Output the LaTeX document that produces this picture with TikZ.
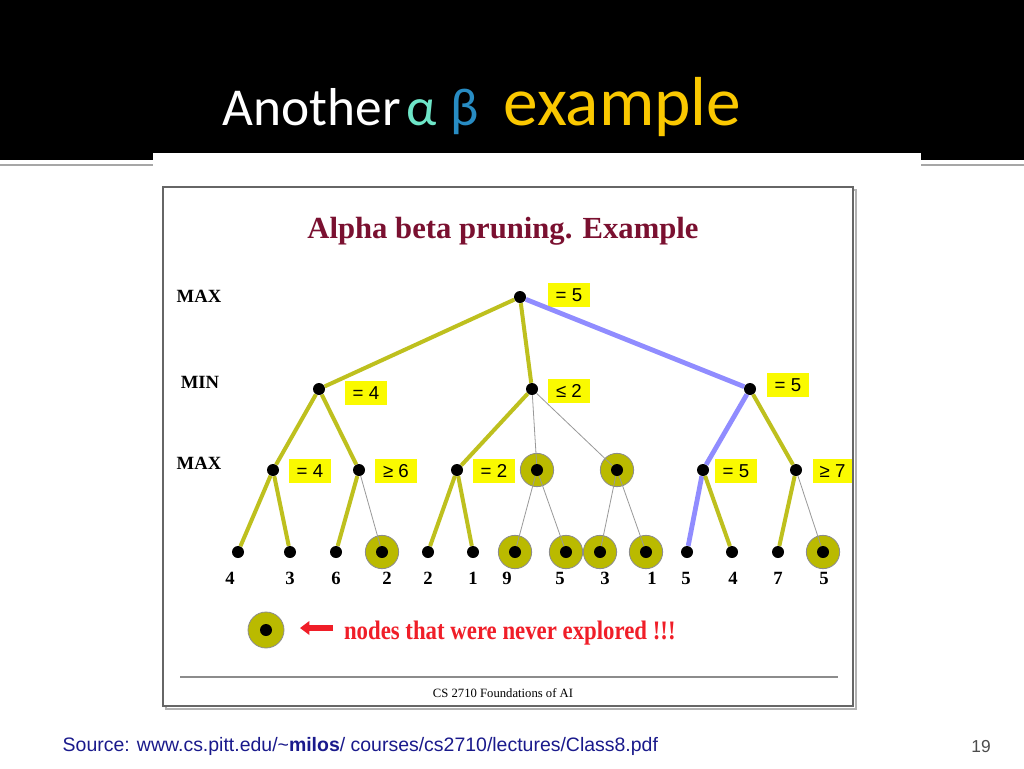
\documentclass[tikz,border=0pt]{standalone}
\usepackage{fontspec}
\setmainfont{Liberation Serif}
\setsansfont{Liberation Sans}
\newfontfamily\titlefont{Carlito}
\usetikzlibrary{arrows.meta}

\definecolor{prunecolor}{RGB}{190,192,30}
\definecolor{pathcolor}{RGB}{144,140,255}
\definecolor{ringcolor}{RGB}{186,186,0}
\definecolor{boxcolor}{RGB}{250,250,0}
\definecolor{headcolor}{RGB}{122,16,48}
\definecolor{notecolor}{RGB}{240,30,40}
\definecolor{sourcecolor}{RGB}{26,26,140}
\definecolor{alphacolor}{RGB}{110,230,200}
\definecolor{betacolor}{RGB}{40,140,195}
\definecolor{examplecolor}{RGB}{250,200,0}

\begin{document}
\begin{tikzpicture}[x=0.75pt,y=-0.75pt,
	dot/.style={circle,fill=black,inner sep=0pt,minimum size=9pt},
	ring/.style={circle,fill=ringcolor,draw=black!45,line width=0.6pt,inner sep=0pt,minimum size=25pt},
	valbox/.style={rectangle,fill=boxcolor,inner sep=0pt,minimum width=31pt,minimum height=18.5pt,anchor=west,font=\sffamily\fontsize{14}{14}\selectfont},
	level/.style={font=\bfseries\fontsize{14}{14}\selectfont},
	value/.style={font=\bfseries\fontsize{14}{14}\selectfont},
	kept/.style={draw=prunecolor,line width=3pt},
	best/.style={draw=pathcolor,line width=3.6pt},
	skipped/.style={draw=black!40,line width=0.6pt}]
	
	\useasboundingbox (0,0) rectangle (1024,768);
	
	\fill[white] (0,0) rectangle (1024,768);
	
	\fill[black] (0,0) rectangle (1024,160);
	
	\draw[black!35,line width=1.5pt] (0,165) -- (1024,165);
	
	\fill[white] (153,153) rectangle (921,720);
	
	\node(titleanother) [anchor=base west,text=white,font=\titlefont\fontsize{40}{40}\selectfont] at (218,125) {Another};
	
	\node(titlealpha) [anchor=base west,text=alphacolor,font=\titlefont\fontsize{40}{40}\selectfont] at (402,125) {α};
	
	\node(titlebeta) [anchor=base west,text=betacolor,font=\titlefont\fontsize{40}{40}\selectfont] at (446,125) {β};
	
	\node(titleexample) [anchor=base west,text=examplecolor,font=\titlefont\fontsize{52}{52}\selectfont] at (499,125) {example};
	
	\draw[black!30,line width=2pt] (166,190) rectangle (856,709);
	
	\draw[black!60,line width=1.5pt,fill=white] (163,187) rectangle (853,706);
	
	\node(heading) [text=headcolor,font=\bfseries\fontsize{23}{23}\selectfont] at (503,231) {Alpha beta pruning. Example};
	
	\node(toplevel) [level] at (199,296) {MAX};
	
	\node(midlevel) [level] at (200,382) {MIN};
	
	\node(lowlevel) [level] at (199,463) {MAX};
	
	\node(root) [dot] at (520,297) {};
	
	\node(rootlabel) [valbox] at (548,295) {= 5};
	
	\node(left) [dot] at (319,389) {};
	
	\node(leftlabel) [valbox] at (345,393) {= 4};
	
	\node(middle) [dot] at (532,389) {};
	
	\node(middlelabel) [valbox] at (548,391) {≤ 2};
	
	\node(right) [dot] at (750,389) {};
	
	\node(rightlabel) [valbox] at (767,385) {= 5};
	
	\node(leftleft) [dot] at (273,470) {};
	
	\node(leftleftlabel) [valbox] at (289,471) {= 4};
	
	\node(leftright) [dot] at (359,470) {};
	
	\node(leftrightlabel) [valbox] at (375,471) {≥ 6};
	
	\node(middleleft) [dot] at (457,470) {};
	
	\node(middleleftlabel) [valbox] at (473,471) {= 2};
	
	\node(middlecentrering) [ring] at (537,470) {};
	
	\node(middlecentre) [dot] at (537,470) {};
	
	\node(middlerightring) [ring] at (617,470) {};
	
	\node(middleright) [dot] at (617,470) {};
	
	\node(rightleft) [dot] at (703,470) {};
	
	\node(rightleftlabel) [valbox] at (715,471) {= 5};
	
	\node(rightright) [dot] at (796,470) {};
	
	\node(rightrightlabel) [valbox,minimum width=29pt] at (813,471) {≥ 7};
	
	\node(leafa) [dot] at (238,552) {};
	
	\node(leafalabel) [value] at (230,578) {4};
	
	\node(leafb) [dot] at (290,552) {};
	
	\node(leafblabel) [value] at (290,578) {3};
	
	\node(leafc) [dot] at (336,552) {};
	
	\node(leafclabel) [value] at (336,578) {6};
	
	\node(leafdring) [ring] at (382,552) {};
	
	\node(leafd) [dot] at (382,552) {};
	
	\node(leafdlabel) [value] at (387,578) {2};
	
	\node(leafe) [dot] at (428,552) {};
	
	\node(leafelabel) [value] at (428,578) {2};
	
	\node(leaff) [dot] at (473,552) {};
	
	\node(leafflabel) [value] at (473,578) {1};
	
	\node(leafgring) [ring] at (515,552) {};
	
	\node(leafg) [dot] at (515,552) {};
	
	\node(leafglabel) [value] at (507,578) {9};
	
	\node(leafhring) [ring] at (566,552) {};
	
	\node(leafh) [dot] at (566,552) {};
	
	\node(leafhlabel) [value] at (560,578) {5};
	
	\node(leafiring) [ring] at (600,552) {};
	
	\node(leafi) [dot] at (600,552) {};
	
	\node(leafilabel) [value] at (605,578) {3};
	
	\node(leafjring) [ring] at (646,552) {};
	
	\node(leafj) [dot] at (646,552) {};
	
	\node(leafjlabel) [value] at (652,578) {1};
	
	\node(leafk) [dot] at (687,552) {};
	
	\node(leafklabel) [value] at (686,578) {5};
	
	\node(leafl) [dot] at (732,552) {};
	
	\node(leafllabel) [value] at (733,578) {4};
	
	\node(leafm) [dot] at (778,552) {};
	
	\node(leafmlabel) [value] at (778,578) {7};
	
	\node(leafnring) [ring] at (823,552) {};
	
	\node(leafn) [dot] at (823,552) {};
	
	\node(leafnlabel) [value] at (824,578) {5};
	
	\draw[kept] (root) -- (left);
	
	\draw[kept] (root) -- (middle);
	
	\draw[best] (root) -- (right);
	
	\draw[kept] (left) -- (leftleft);
	
	\draw[kept] (left) -- (leftright);
	
	\draw[kept] (middle) -- (middleleft);
	
	\draw[skipped] (middle) -- (middlecentre);
	
	\draw[skipped] (middle) -- (middleright);
	
	\draw[best] (right) -- (rightleft);
	
	\draw[kept] (right) -- (rightright);
	
	\draw[kept] (leftleft) -- (leafa);
	
	\draw[kept] (leftleft) -- (leafb);
	
	\draw[kept] (leftright) -- (leafc);
	
	\draw[skipped] (leftright) -- (leafd);
	
	\draw[kept] (middleleft) -- (leafe);
	
	\draw[kept] (middleleft) -- (leaff);
	
	\draw[skipped] (middlecentre) -- (leafg);
	
	\draw[skipped] (middlecentre) -- (leafh);
	
	\draw[skipped] (middleright) -- (leafi);
	
	\draw[skipped] (middleright) -- (leafj);
	
	\draw[best] (rightleft) -- (leafk);
	
	\draw[kept] (rightleft) -- (leafl);
	
	\draw[kept] (rightright) -- (leafm);
	
	\draw[skipped] (rightright) -- (leafn);
	
	\node(legendring) [ring,minimum height=27pt,minimum width=25pt] at (266,630) {};
	
	\node(legenddot) [dot] at (266,630) {};
	
	\coordinate (arrowtail) at (333,628);
	
	\coordinate (arrowtip) at (300,628);
	
	\draw[notecolor,line width=4pt,-{Triangle[length=7pt,width=10pt]}] (arrowtail) -- (arrowtip);
	
	\node(legendtext) [anchor=west,text=notecolor,xscale=0.855,font=\bfseries\fontsize{20}{20}\selectfont] at (340,633) {nodes that were never explored !!!};
	
	\draw[black!45,line width=0.8pt] (180,677) -- (838,677);
	
	\node(footnote) [font=\fontsize{9.5}{9.5}\selectfont] at (503,693) {CS 2710 Foundations of AI};
	
	\node(source) [anchor=base west,text=sourcecolor,font=\sffamily\fontsize{14.6}{14.6}\selectfont] at (58,751) {Source: www.cs.pitt.edu/\textasciitilde\textbf{milos}/ courses/cs2710/lectures/Class8.pdf};
	
	\node(pagenumber) [anchor=base,text=black!70,font=\sffamily\fontsize{13}{13}\selectfont] at (981,752) {19};
	
\end{tikzpicture}
\end{document}
